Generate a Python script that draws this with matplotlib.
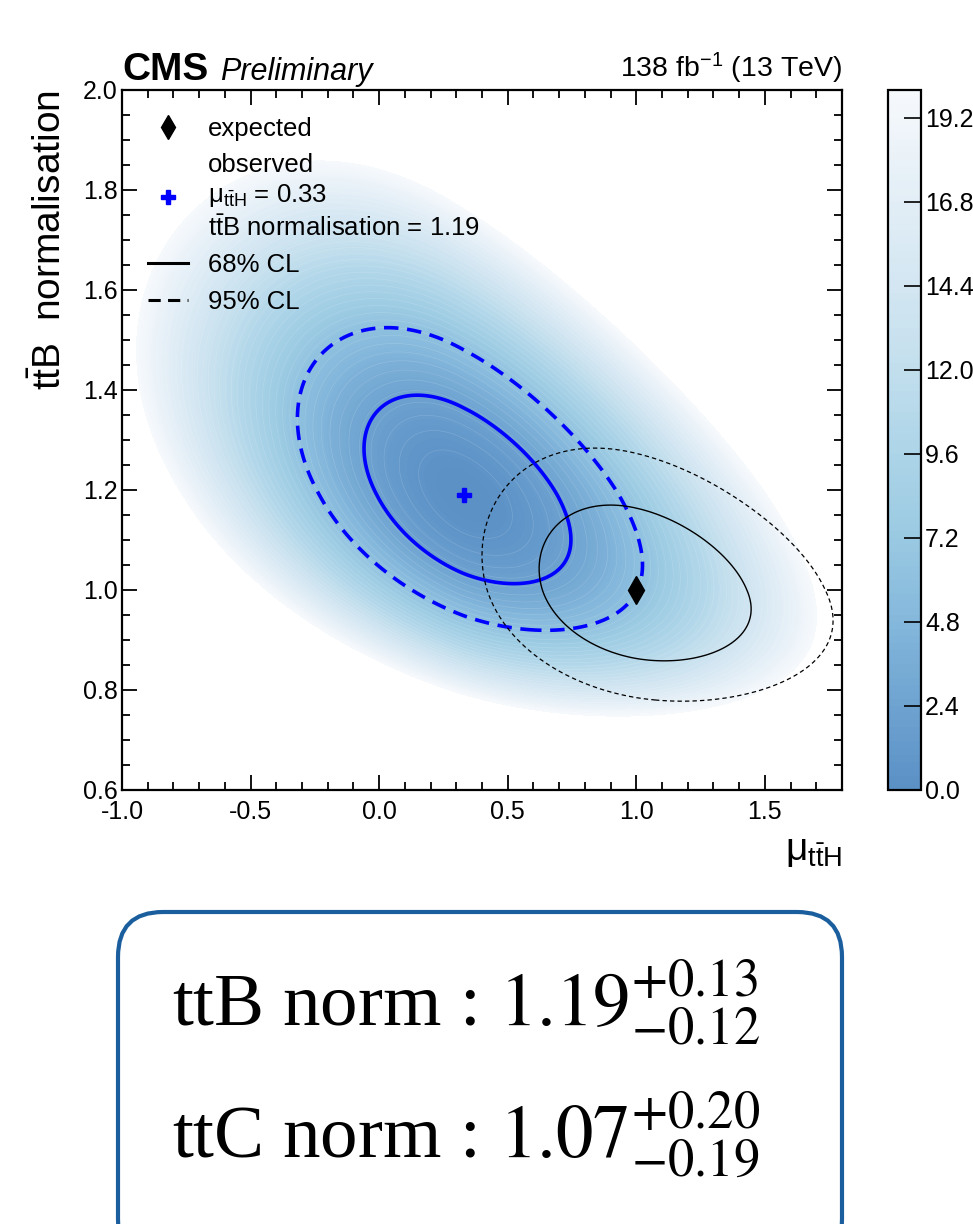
import numpy as np
import matplotlib
matplotlib.use('Agg')
import matplotlib.pyplot as plt
from matplotlib.colors import LinearSegmentedColormap
from matplotlib.lines import Line2D
from matplotlib.patches import FancyBboxPatch
from matplotlib.ticker import MultipleLocator, FormatStrFormatter

plt.rcParams['font.family'] = ['Liberation Sans', 'DejaVu Sans']
plt.rcParams['mathtext.fontset'] = 'custom'
plt.rcParams['mathtext.rm'] = 'Liberation Sans'
plt.rcParams['mathtext.it'] = 'Liberation Sans:italic'
plt.rcParams['mathtext.bf'] = 'Liberation Sans:bold'
plt.rcParams['axes.unicode_minus'] = False

# fit results
obs_best = [0.33, 1.19]          # (mu_ttH, ttB norm)
exp_best = [1.0, 1.0]
# half widths (x low, x high, y low, y high) near the minimum, and how they grow with distance
obs_sigma = [0.244, 0.260, 0.129, 0.124]
obs_slope = [0.032, 0.034, -0.068, 0.038]
obs_rho = -0.48
exp_sigma = [0.256, 0.269, 0.098, 0.106]
exp_slope = [-0.018, 0.057, -0.032, 0.035]
exp_rho = -0.26

cl_levels = [2.30, 5.99]     # 68% / 95% CL in 2*dNLL
z_max = 20.0
cbar_ticks = [0.0, 2.4, 4.8, 7.2, 9.6, 12.0, 14.4, 16.8, 19.2]

norm_names = ['ttB', 'ttC']
norm_vals = [1.19, 1.07]
norm_up = [0.13, 0.20]
norm_dn = [0.12, 0.19]


def nll2(X, Y, best, sig, slope, rho):
    dx = X - best[0]
    dy = Y - best[1]
    sx = np.where(dx < 0, sig[0] + slope[0] * np.abs(dx), sig[1] + slope[1] * np.abs(dx))
    sy = np.where(dy < 0, sig[2] + slope[2] * np.abs(dy), sig[3] + slope[3] * np.abs(dy))
    u = dx / sx
    v = dy / sy
    return (u**2 - 2 * rho * u * v + v**2) / (1 - rho**2)


cmap = LinearSegmentedColormap.from_list(
    'lik', ['#5b90c6', '#6fa4d1', '#86b9dc', '#9ccbe3', '#b0d6e9',
            '#c6e0ee', '#d7e8f3', '#e6f0f7', '#f6f9fc'])

fig = plt.figure(figsize=(9.73, 12.24), dpi=100)
ax = fig.add_axes([0.1254, 0.3546, 0.7400, 0.5719])
cax = fig.add_axes([0.9126, 0.3546, 0.0339, 0.5719])

xg = np.linspace(-1.0, 1.8, 561)
yg = np.linspace(0.6, 2.0, 281)
X, Y = np.meshgrid(xg, yg)
q_obs = nll2(X, Y, obs_best, obs_sigma, obs_slope, obs_rho)
q_exp = nll2(X, Y, exp_best, exp_sigma, exp_slope, exp_rho)

cf = ax.contourf(X, Y, q_obs, levels=np.linspace(0, z_max, 101), cmap=cmap, vmin=0, vmax=z_max)
ax.contour(X, Y, q_obs, levels=np.arange(0.5, z_max, 0.5), colors='white', linewidths=0.5, alpha=0.15)

# observed contours
ax.contour(X, Y, q_obs, levels=[cl_levels[0]], colors='#0000ff', linewidths=2.6)
ax.contour(X, Y, q_obs, levels=[cl_levels[1]], colors='#0000ff', linewidths=2.6,
           linestyles=[(0, (4.0, 2.4))])
# expected contours
ax.contour(X, Y, q_exp, levels=[cl_levels[0]], colors='black', linewidths=1.0)
ax.contour(X, Y, q_exp, levels=[cl_levels[1]], colors='black', linewidths=0.9,
           linestyles=[(0, (3.5, 2.5))])

ax.plot(exp_best[0], exp_best[1], ls='none', marker='d', color='black', ms=14)
ax.plot(obs_best[0], obs_best[1], ls='none', marker='P', color='#0000ff', ms=10)

ax.set_xlim(-1.0, 1.8)
ax.set_ylim(0.6, 2.0)
ax.xaxis.set_major_locator(MultipleLocator(0.5))
ax.xaxis.set_minor_locator(MultipleLocator(0.1))
ax.yaxis.set_major_locator(MultipleLocator(0.2))
ax.yaxis.set_minor_locator(MultipleLocator(0.05))
ax.xaxis.set_major_formatter(FormatStrFormatter('%.1f'))
ax.yaxis.set_major_formatter(FormatStrFormatter('%.1f'))
ax.tick_params(which='both', direction='in', top=True, right=True, width=1.3, labelsize=18)
ax.tick_params(which='major', length=11)
ax.tick_params(which='minor', length=5.5)
ax.tick_params(axis='x', pad=7)
ax.tick_params(axis='y', pad=3)
for s in ax.spines.values():
    s.set_linewidth(1.6)

ax.set_xlabel(r'μ$_{\mathrm{t\bar{t}H}}$', fontsize=28, loc='right')
ax.xaxis.set_label_coords(1.0, -0.062)
ax.set_ylabel(r't$\bar{\mathrm{t}}$B  normalisation', fontsize=28, loc='top')
ax.yaxis.set_label_coords(-0.074, 1.0)

handles = [Line2D([], [], ls='none', marker='d', color='black', ms=12),
           Line2D([], [], ls='none', marker='P', color='#0000ff', ms=10),
           Line2D([], [], color='black', lw=2.2),
           Line2D([], [], color='black', lw=2.2, ls=(0, (4.0, 2.4)))]
labels = ['expected',
          'observed\nμ$_{\\mathrm{t\\bar{t}H}}$ = %.2f\nt$\\bar{\\mathrm{t}}$B normalisation = %.2f'
          % (obs_best[0], obs_best[1]),
          '68% CL', '95% CL']
leg = ax.legend(handles, labels, loc='upper left', bbox_to_anchor=(0.036, 0.962), frameon=False,
                fontsize=18.5, handlelength=1.55, handletextpad=0.8, labelspacing=0.5,
                borderpad=0, borderaxespad=0)
leg.get_texts()[1].set_linespacing(1.25)

cb = fig.colorbar(cf, cax=cax, ticks=cbar_ticks)
cb.ax.yaxis.set_major_formatter(FormatStrFormatter('%.1f'))
cb.ax.tick_params(direction='in', length=12, width=1.2, labelsize=18, pad=3, right=True)
cb.ax.minorticks_off()
cb.outline.set_linewidth(1.6)

fig.text(122 / 973, 1 - 80 / 1224, 'CMS', weight='bold', fontsize=28, va='baseline')
fig.text(220 / 973, 1 - 80 / 1224, 'Preliminary', style='italic', fontsize=22, va='baseline')
fig.text(842 / 973, 1 - 77 / 1224, r'138 fb$^{-1}$ (13 TeV)', fontsize=20.5, ha='right', va='baseline')

box = FancyBboxPatch((1.18, -0.4), 7.24, 3.52, boxstyle='round,pad=0,rounding_size=0.45',
                     transform=fig.dpi_scale_trans, fc='white', ec='#1b5e9e', lw=3, clip_on=False)
fig.add_artist(box)
baselines = [1025, 1157]
for name, val, up, dn, yb in zip(norm_names, norm_vals, norm_up, norm_dn, baselines):
    fig.text(172 / 973, 1 - yb / 1224,
             '%s norm : $%.2f^{+%.2f}_{-%.2f}$' % (name, val, up, dn),
             family='Liberation Serif', math_fontfamily='stix', fontsize=54, va='baseline')

fig.savefig('out.png', dpi=100)
